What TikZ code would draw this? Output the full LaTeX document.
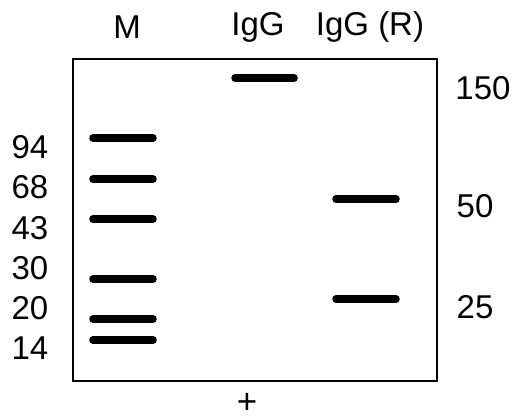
\documentclass[tikz,border=0pt]{standalone}
\usepackage{fontspec}
\setmainfont{Liberation Sans}
\begin{document}
\begin{tikzpicture}[x=1pt,y=-1pt,
  lbl/.style={font=\fontsize{33}{33}\selectfont, inner sep=0pt, anchor=center},
  band/.style={line width=7.5pt, line cap=round}]
\useasboundingbox (0,0) rectangle (513,419);
\node[draw, line width=2pt, minimum width=364pt, minimum height=322pt, inner sep=0pt, anchor=north west] (gel) at (72,58) {};
% lane labels
\node[lbl] (lM) at (127,27) {M};
\node[lbl] (lI) at (258,27) {IgG};
\node[lbl] (lR) at (370,27) {IgG (R)};
% left marker labels
\node[lbl] (m94) at (30,147) {94};
\node[lbl] (m68) at (30,187) {68};
\node[lbl] (m43) at (30,228) {43};
\node[lbl] (m30) at (30,268) {30};
\node[lbl] (m20) at (30,308) {20};
\node[lbl] (m14) at (30,348) {14};
% right labels
\node[lbl] (r150) at (483,88) {150};
\node[lbl] (r50) at (475,206) {50};
\node[lbl] (r25) at (475,307) {25};
% plus
\node[lbl] (plus) at (247,403) {\scalebox{1.45}[1.45]{\fontsize{24}{24}\selectfont\raisebox{0pt}[\height][0pt]{+}}};
% bands
\foreach \y in {138,179,219,279,319,340} \draw[band] (93,\y) -- (153,\y);
\draw[band] (235,78) -- (294,78);
\draw[band] (336,199) -- (396,199);
\draw[band] (336,299) -- (396,299);
\end{tikzpicture}
\end{document}
